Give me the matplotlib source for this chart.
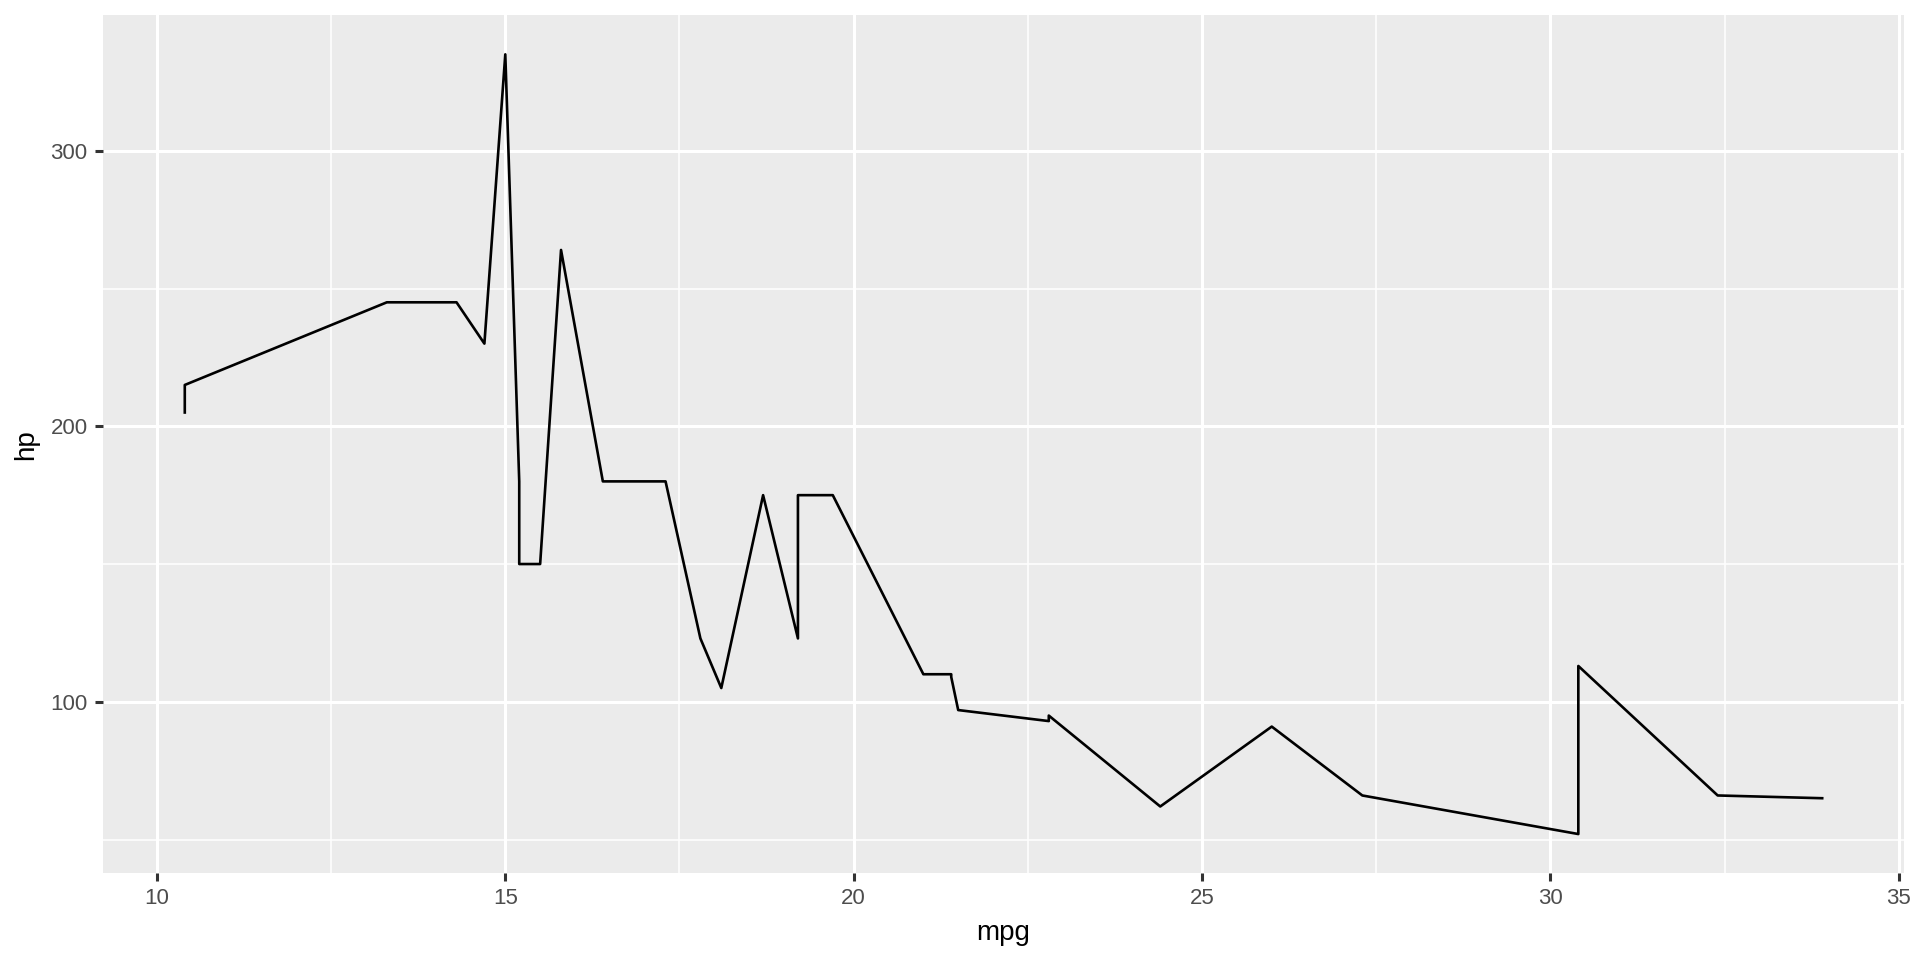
import matplotlib.pyplot as plt
import numpy as np
import pandas as pd

plt.rcParams['font.family'] = ['Liberation Sans', 'DejaVu Sans']

# mtcars: mpg and hp, in the original row order
mpg = [21.0, 21.0, 22.8, 21.4, 18.7, 18.1, 14.3, 24.4, 22.8, 19.2, 17.8, 16.4,
       17.3, 15.2, 10.4, 10.4, 14.7, 32.4, 30.4, 33.9, 21.5, 15.5, 15.2, 13.3,
       19.2, 27.3, 26.0, 30.4, 15.8, 19.7, 15.0, 21.4]
hp = [110, 110, 93, 110, 175, 105, 245, 62, 95, 123, 123, 180,
      180, 180, 205, 215, 230, 66, 52, 65, 97, 150, 150, 245,
      175, 66, 91, 113, 264, 175, 335, 109]

df = pd.DataFrame({'mpg': mpg, 'hp': hp}).sort_values('mpg', kind='stable')

fig = plt.figure(figsize=(19.2, 9.6), dpi=100)
ax = fig.add_axes([0.0536, 0.0906, 0.9381, 0.8934])
ax.set_facecolor('#EBEBEB')

ax.plot(df['mpg'], df['hp'], color='black', lw=1.9, zorder=3)

xr = df['mpg'].max() - df['mpg'].min()
yr = df['hp'].max() - df['hp'].min()
ax.set_xlim(df['mpg'].min() - 0.05 * xr, df['mpg'].max() + 0.05 * xr)
ax.set_ylim(df['hp'].min() - 0.05 * yr, df['hp'].max() + 0.05 * yr)

ax.set_xticks([10, 15, 20, 25, 30, 35])
ax.set_xticks([12.5, 17.5, 22.5, 27.5, 32.5], minor=True)
ax.set_yticks([100, 200, 300])
ax.set_yticks([50, 150, 250], minor=True)

ax.grid(which='major', color='white', lw=2.2, zorder=0)
ax.grid(which='minor', color='white', lw=1.1, zorder=0)
ax.set_axisbelow(True)
for s in ax.spines.values():
    s.set_visible(False)

ax.tick_params(which='major', length=6, width=2.2, color='#333333',
               labelsize=16, labelcolor='#4D4D4D', pad=5)
ax.tick_params(which='minor', length=0)

ax.set_xlabel('mpg', fontsize=20, labelpad=8)
ax.set_ylabel('hp', fontsize=20, labelpad=8)

fig.savefig('out.png', dpi=100)
